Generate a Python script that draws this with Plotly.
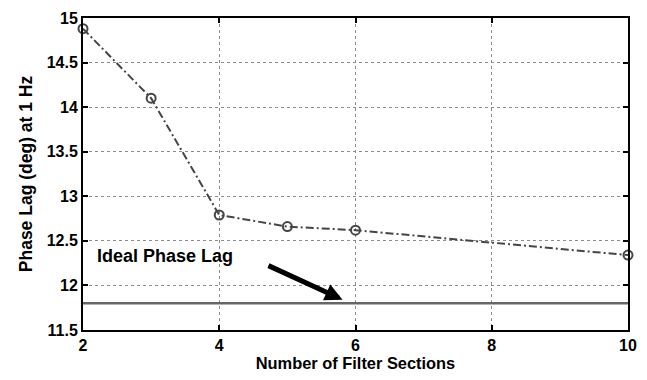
import plotly.graph_objects as go

sections = [2, 3, 4, 5, 6, 10]
phase_lag = [14.88, 14.10, 12.79, 12.66, 12.62, 12.34]
ideal_x = [2, 10]
ideal_lag = [11.80, 11.80]
x_ticks = [2, 4, 6, 8, 10]
y_ticks = [11.5, 12, 12.5, 13, 13.5, 14, 14.5, 15]
y_tick_text = ["11.5", "12", "12.5", "13", "13.5", "14", "14.5", "15"]

FONT = "Liberation Sans, Arial, sans-serif"

fig = go.Figure()
fig.add_trace(go.Scatter(
    x=ideal_x, y=ideal_lag, mode="lines",
    line=dict(color="#666666", width=2.5), showlegend=False, cliponaxis=False))
fig.add_trace(go.Scatter(
    x=sections, y=phase_lag, mode="lines+markers",
    line=dict(color="#454545", width=2, dash="8px,3px,2px,3px"),
    marker=dict(symbol="circle-open", size=9, color="#454545", line=dict(width=2)),
    showlegend=False, cliponaxis=False))

fig.add_annotation(
    x=2.18, y=12.33, xref="x", yref="y", text="<b>Ideal Phase Lag</b>",
    showarrow=False, xanchor="left", yanchor="middle",
    font=dict(family=FONT, size=18, color="black"))
fig.add_annotation(
    x=5.81, y=11.84, ax=4.70, ay=12.23, xref="x", yref="y", axref="x", ayref="y",
    text="", showarrow=True, arrowhead=2, arrowsize=0.7, arrowwidth=5, arrowcolor="black")

axis_common = dict(
    showline=True, linecolor="black", linewidth=2, mirror="ticks",
    ticks="inside", ticklen=5, tickwidth=1.5, tickcolor="black",
    showgrid=True, gridcolor="#8c8c8c", gridwidth=1, griddash="dot",
    zeroline=False,
    tickfont=dict(family=FONT, size=16, color="black"),
)

fig.update_xaxes(
    range=[2, 10], tickvals=x_ticks, ticktext=["<b>%s</b>" % v for v in x_ticks],
    title=dict(text="<b>Number of Filter Sections</b>", standoff=4,
               font=dict(family=FONT, size=16.4, color="black")),
    **axis_common)
fig.update_yaxes(
    range=[11.5, 15], tickvals=y_ticks, ticktext=["<b>%s</b>" % t for t in y_tick_text],
    title=dict(text="<b>Phase Lag (deg) at 1 Hz</b>", standoff=10,
               font=dict(family=FONT, size=17.5, color="black")),
    **axis_common)

fig.update_layout(
    width=647, height=380,
    margin=dict(l=83, r=19, t=10, b=47),
    paper_bgcolor="white", plot_bgcolor="white",
)

fig.write_html("out.html")
